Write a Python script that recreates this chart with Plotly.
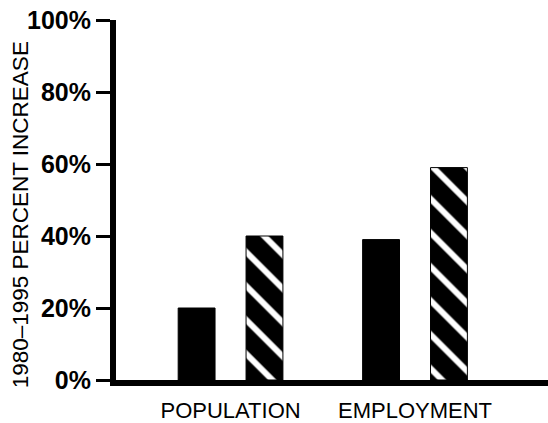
import plotly.graph_objects as go

# Percent increase 1980-1995, two series per measure
categories = ["POPULATION", "EMPLOYMENT"]
solid_values = [20, 39]
hatched_values = [40, 59]
y_ticks = [0, 20, 40, 60, 80, 100]
y_tick_labels = ["0%", "20%", "40%", "60%", "80%", "100%"]
y_title = "1980\u20131995 PERCENT INCREASE"

FONT = "Liberation Sans, Arial, Helvetica, sans-serif"

fig = go.Figure()

fig.add_trace(go.Bar(
    x=categories,
    y=solid_values,
    marker=dict(color="black", line=dict(color="black", width=1)),
    showlegend=False,
))

fig.add_trace(go.Bar(
    x=categories,
    y=hatched_values,
    marker=dict(
        color="black",
        line=dict(color="black", width=1),
        pattern=dict(shape="\\", fgcolor="white", bgcolor="black",
                     size=24, solidity=0.25, fillmode="replace"),
    ),
    showlegend=False,
))

fig.update_layout(
    width=548,
    height=423,
    margin=dict(l=116, r=0, t=20, b=40),
    paper_bgcolor="white",
    plot_bgcolor="white",
    barmode="group",
    bargap=0.264,
    bargroupgap=0.457,
    font=dict(family=FONT, color="black"),
)

fig.update_xaxes(
    range=[-0.621, 1.721],
    showline=True,
    linecolor="black",
    linewidth=6,
    showgrid=False,
    zeroline=False,
    ticks="",
    tickfont=dict(family=FONT, size=22, color="black"),
    ticklabelstandoff=6,
    fixedrange=True,
)

fig.update_yaxes(
    range=[0, 100],
    tickvals=y_ticks,
    ticktext=y_tick_labels,
    showline=True,
    linecolor="black",
    linewidth=6,
    showgrid=False,
    zeroline=False,
    ticks="outside",
    ticklen=14,
    tickwidth=3,
    tickcolor="black",
    tickfont=dict(family=FONT, size=25, color="black", weight="bold"),
    fixedrange=True,
)

fig.add_annotation(
    text=y_title,
    xref="paper", yref="paper",
    x=(20 - 116) / 432, y=(383 - 217) / 363,
    xanchor="center", yanchor="middle",
    textangle=-90,
    showarrow=False,
    font=dict(family=FONT, size=22.5, color="black"),
)

fig.write_html("out.html")
